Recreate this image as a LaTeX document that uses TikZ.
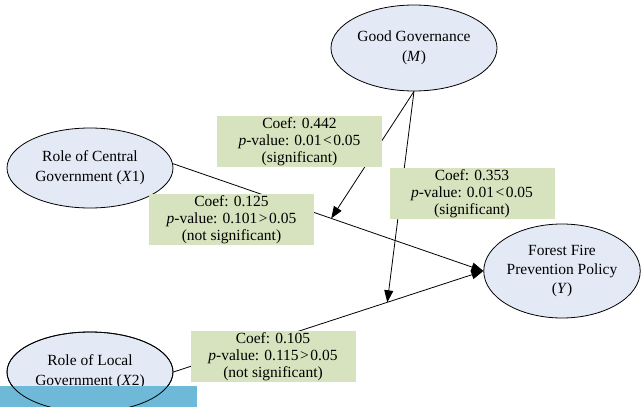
\documentclass[tikz,border=0pt]{standalone}
\usepackage{fontspec}
\setmainfont{Liberation Serif}
\usetikzlibrary{shapes.geometric,arrows.meta}
\definecolor{ellfill}{RGB}{227,234,246}
\definecolor{boxfill}{RGB}{215,227,190}
\definecolor{barblue}{RGB}{110,185,215}
\tikzset{
  var/.style={ellipse, draw=black, line width=0.8pt, fill=ellfill, inner sep=0pt, align=center,
     font=\fontsize{15.5}{20}\selectfont},
  coefbox/.style={rectangle, fill=boxfill, inner sep=0pt, minimum width=165pt, minimum height=51pt,
     align=center, font=\fontsize{15.5}{17}\selectfont},
  link/.style={line width=0.8pt, draw=black},
  arr/.style={link, -{Triangle[length=12pt,width=9pt]}}
}
\newcommand{\lt}{\kern1.5pt<\kern1.5pt}
\newcommand{\gt}{\kern1.5pt>\kern1.5pt}
\begin{document}
\begin{tikzpicture}[x=1pt,y=-1pt]
\useasboundingbox (0,0) rectangle (641,407);
\node[var, minimum width=166pt, minimum height=86pt] (M) at (414,48) {Good Governance\\(\textit{M})};
\node[var, minimum width=166pt, minimum height=80pt] (X1) at (90,168) {Role of Central\\Government (\textit{X}1)};
\node[var, minimum width=156pt, minimum height=94pt, font=\fontsize{15.5}{19}\selectfont] (Y) at (562,271) {Forest Fire\\Prevention Policy\\(\textit{Y})};
\node[var, minimum width=166pt, minimum height=80pt] (X2) at (90,372) {Role of Local\\Government (\textit{X}2)};
\fill[barblue] (0,386) rectangle (197,407);
\node[ellipse, draw=black, line width=0.8pt, inner sep=0pt, minimum width=166pt, minimum height=80pt] (X2o) at (90,372) {};

\coordinate (Yin) at (Y.west);
\draw[arr] (X1.3) -- (Yin) coordinate[pos=0.51] (m1);
\draw[arr] (X2.east) -- (Yin) coordinate[pos=0.69] (m2);
\draw[arr] (M.south) -- (m1);
\draw[arr] (M.south) -- (m2);

\node[coefbox] (b1) at (299.5,141.5) {Coef: 0.442\\\textit{p}-value: 0.01\lt0.05\\(significant)};
\node[coefbox] (b2) at (231.5,219.5) {Coef: 0.125\\\textit{p}-value: 0.101\gt0.05\\(not significant)};
\node[coefbox] (b3) at (472,193.5) {Coef: 0.353\\\textit{p}-value: 0.01\lt0.05\\(significant)};
\node[coefbox] (b4) at (273,356.5) {Coef: 0.105\\\textit{p}-value: 0.115\gt0.05\\(not significant)};
\end{tikzpicture}
\end{document}
